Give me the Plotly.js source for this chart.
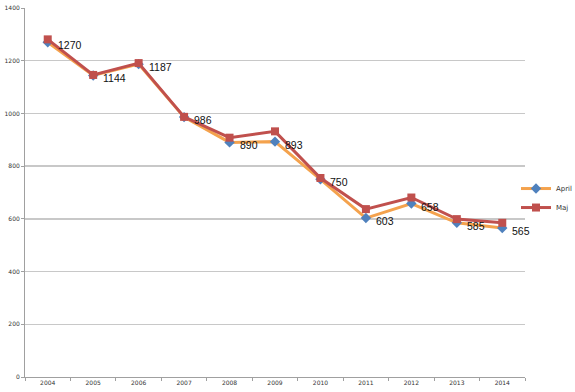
<!DOCTYPE html>
<html><head><meta charset="utf-8">
<script src="https://cdn.plot.ly/plotly-3.0.1.min.js"></script>
<style>html,body{margin:0;padding:0;background:#fff;}#chart{width:575px;height:392px;}</style>
</head><body><div id="chart"></div>
<script>
const years = ['2004','2005','2006','2007','2008','2009','2010','2011','2012','2013','2014'];
const april = [1270,1144,1187,986,890,893,750,603,658,585,565];
const maj = [1281,1146,1191,987,908,932,755,637,681,599,585];
const yTicks = [0,200,400,600,800,1000,1200,1400];

const traces = [
  {x: years, y: april, name: 'April', type: 'scatter', mode: 'lines+markers',
   line: {color: '#f4a24d', width: 3},
   marker: {symbol: 'diamond', color: '#4f81bd', size: 8},
   cliponaxis: false},
  {x: years, y: maj, name: 'Maj', type: 'scatter', mode: 'lines+markers',
   line: {color: '#c0504d', width: 3},
   marker: {symbol: 'square', color: '#c0504d', size: 8},
   cliponaxis: false}
];

const annotations = [];
for (let i = 0; i < years.length; i++) {
  annotations.push({
    x: i, y: april[i], xref: 'x', yref: 'y', text: String(april[i]),
    showarrow: false, xanchor: 'left', yanchor: 'middle', xshift: 8, yshift: -3,
    font: {family: 'Liberation Sans, Arial', size: 10.5, color: '#111'}
  });
}

const layout = {
  width: 575, height: 392,
  margin: {l: 25, r: 50, t: 8, b: 15, autoexpand: false},
  paper_bgcolor: '#fff', plot_bgcolor: '#fff',
  showlegend: true,
  annotations: annotations,
  legend: {x: 0.982, y: 0.485, xanchor: 'left', yanchor: 'middle',
           font: {family: 'DejaVu Sans', size: 7, color: '#333'},
           itemwidth: 30, tracegroupgap: 0, bgcolor: 'rgba(0,0,0,0)'},
  xaxis: {type: 'category', range: [-0.5, 10.5], showgrid: false,
          showline: true, linecolor: '#a0a0a0', linewidth: 1,
          ticks: 'outside', tickson: 'boundaries', ticklen: 3, tickcolor: '#a0a0a0',
          tickfont: {family: 'DejaVu Sans', size: 6, color: '#333'}, fixedrange: true},
  yaxis: {range: [0, 1400], tickvals: yTicks, showgrid: true, gridcolor: '#c8c8c8', gridwidth: 1.5,
          showline: true, linecolor: '#a0a0a0', linewidth: 1, zeroline: false,
          ticks: 'outside', ticklen: 3, tickcolor: '#a0a0a0',
          tickfont: {family: 'DejaVu Sans', size: 6, color: '#333'}, fixedrange: true}
};
Plotly.newPlot('chart', traces, layout, {displayModeBar: false, staticPlot: true});
</script></body></html>
